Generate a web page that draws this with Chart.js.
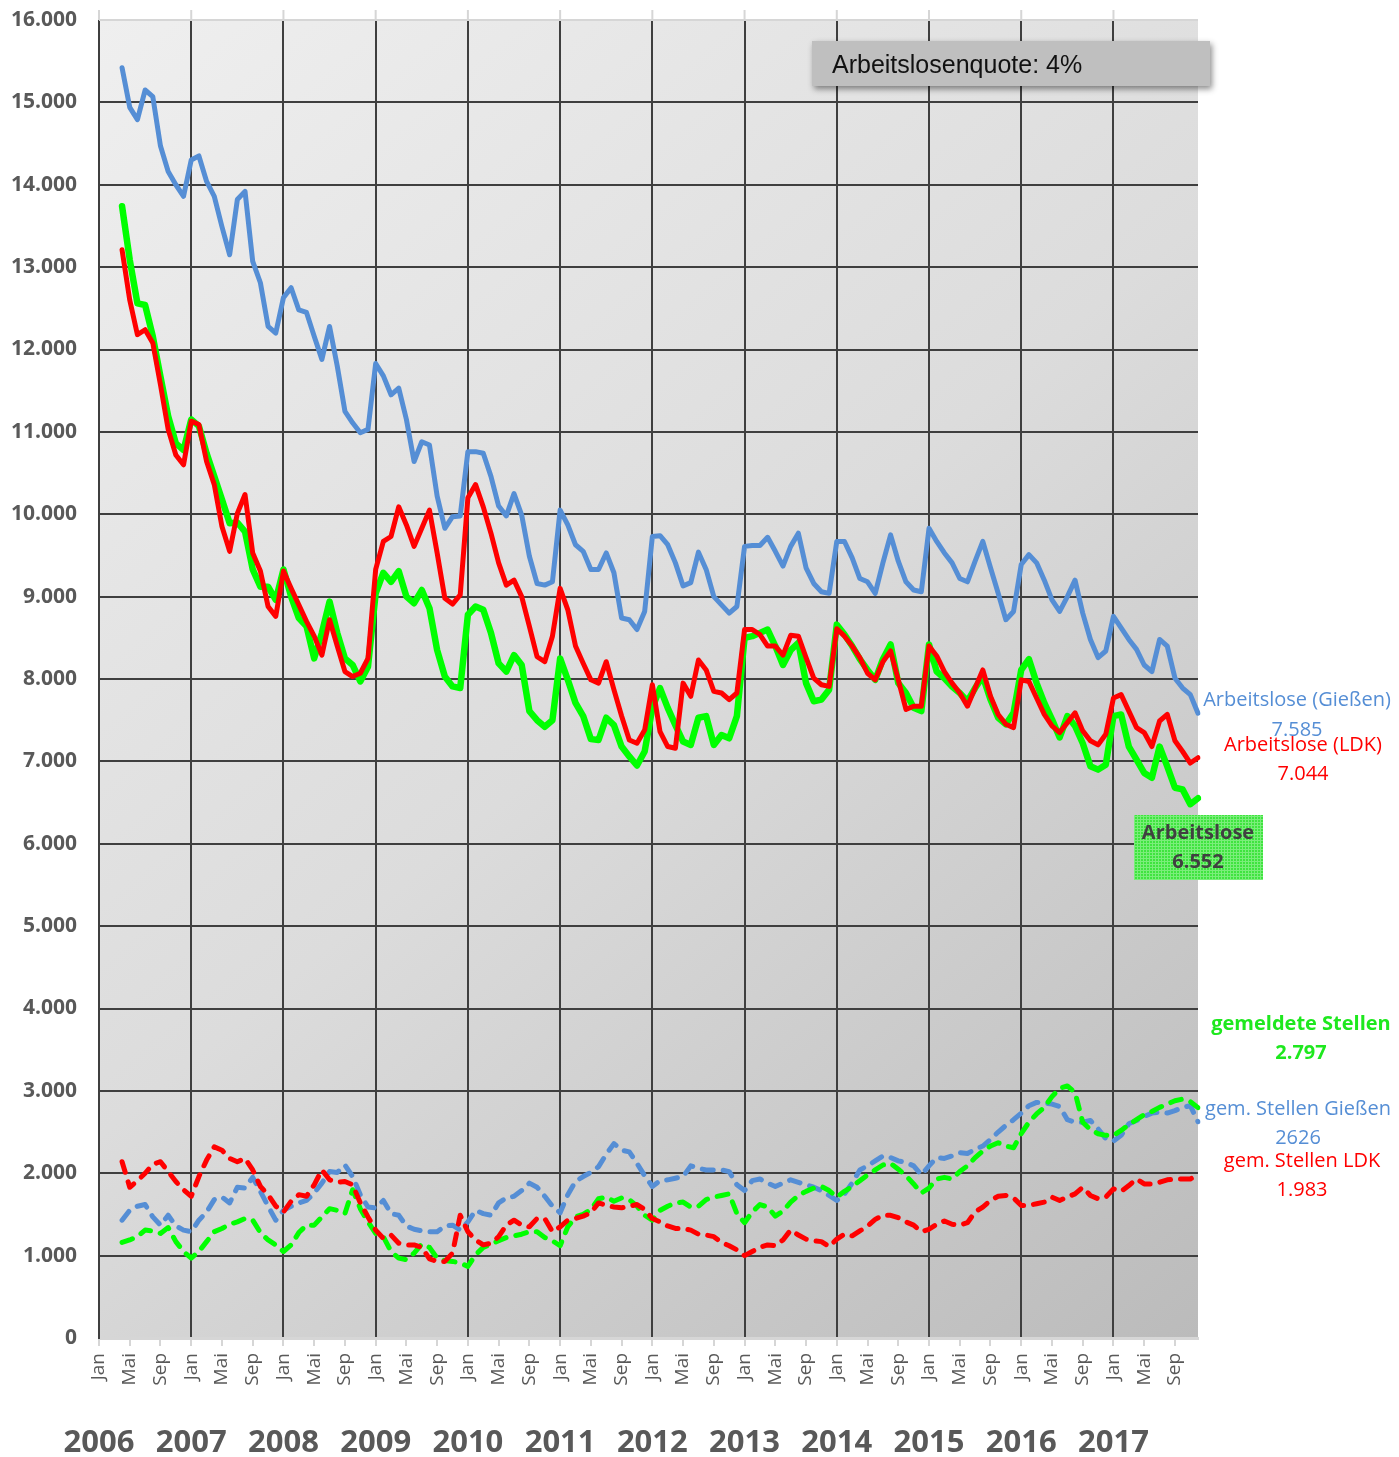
<!DOCTYPE html>
<html lang="de">
<head>
<meta charset="UTF-8">
<title>Arbeitslose und gemeldete Stellen 2006-2017</title>
<script src="https://cdn.jsdelivr.net/npm/chart.js"></script>
<style>
  html, body { margin: 0; padding: 0; background: #ffffff; }
  #wrap { width: 1399px; height: 1457px; }
</style>
</head>
<body>
<div id="wrap"><canvas id="chart" width="1399" height="1457"></canvas></div>
<script>
const jahre = [2006, 2007, 2008, 2009, 2010, 2011, 2012, 2013, 2014, 2015, 2016, 2017];
const monate = ['Jan', 'Feb', 'Mär', 'Apr', 'Mai', 'Jun', 'Jul', 'Aug', 'Sep', 'Okt', 'Nov', 'Dez'];

// Monatswerte April 2006 bis Dezember 2017 (eine Zeile je Jahr)
const arbeitsloseGiessen = [
  15420, 14940, 14790, 15150, 15070, 14470, 14160, 14000, 13860,
  14300, 14350, 14040, 13860, 13490, 13150, 13820, 13920, 13070, 12810, 12280, 12200,
  12630, 12750, 12480, 12450, 12160, 11880, 12280, 11800, 11250, 11110, 10990, 11030,
  11830, 11680, 11450, 11530, 11150, 10640, 10880, 10840, 10220, 9830, 9970, 9980,
  10760, 10760, 10740, 10460, 10100, 9980, 10250, 9990, 9490, 9160, 9140, 9180,
  10050, 9870, 9630, 9550, 9330, 9330, 9530, 9290, 8740, 8720, 8600, 8820,
  9730, 9740, 9630, 9410, 9130, 9170, 9540, 9330, 9000, 8900, 8800, 8880,
  9610, 9620, 9620, 9720, 9550, 9370, 9610, 9770, 9350, 9160, 9060, 9040,
  9670, 9670, 9470, 9220, 9180, 9040, 9410, 9750, 9430, 9180, 9080, 9060,
  9830, 9670, 9530, 9410, 9220, 9180, 9430, 9670, 9350, 9040, 8720, 8820,
  9390, 9510, 9410, 9200, 8960, 8820, 9000, 9200, 8800, 8480, 8260, 8340,
  8760, 8620, 8480, 8360, 8170, 8090, 8480, 8400, 8010, 7890, 7810, 7585
];
const arbeitsloseLDK = [
  13210, 12600, 12180, 12240, 12080, 11570, 11030, 10720, 10600,
  11130, 11090, 10640, 10360, 9850, 9550, 10010, 10240, 9530, 9310, 8880, 8760,
  9310, 9100, 8900, 8700, 8520, 8290, 8720, 8400, 8090, 8030, 8070, 8250,
  9330, 9670, 9730, 10090, 9870, 9610, 9830, 10050, 9530, 8980, 8910, 9020,
  10200, 10360, 10090, 9770, 9410, 9140, 9200, 9000, 8640, 8270, 8210, 8520,
  9100, 8840, 8400, 8190, 7990, 7950, 8210, 7870, 7550, 7260, 7220, 7380,
  7930, 7360, 7180, 7160, 7950, 7790, 8230, 8110, 7850, 7830, 7750, 7830,
  8600, 8600, 8540, 8400, 8400, 8290, 8530, 8520, 8260, 8010, 7930, 7910,
  8610, 8520, 8400, 8260, 8070, 7990, 8210, 8340, 7990, 7630, 7670, 7670,
  8400, 8280, 8090, 7950, 7830, 7670, 7890, 8110, 7790, 7570, 7450, 7410,
  7990, 7970, 7770, 7570, 7430, 7350, 7470, 7590, 7370, 7250, 7200, 7330,
  7770, 7810, 7610, 7410, 7350, 7180, 7490, 7570, 7250, 7120, 6980, 7044
];
const arbeitslose = [
  13740, 13090, 12560, 12540, 12160, 11670, 11190, 10860, 10780,
  11150, 11070, 10740, 10460, 10180, 9890, 9900, 9790, 9330, 9120, 9120, 8960,
  9330, 9000, 8740, 8640, 8250, 8560, 8940, 8560, 8250, 8170, 7970, 8150,
  9040, 9290, 9180, 9310, 9000, 8920, 9080, 8860, 8350, 8030, 7910, 7890,
  8780, 8880, 8840, 8560, 8190, 8090, 8290, 8170, 7610, 7500, 7420, 7500,
  8250, 7990, 7710, 7550, 7270, 7260, 7530, 7440, 7180, 7060, 6950, 7120,
  7650, 7890, 7650, 7440, 7240, 7200, 7530, 7550, 7200, 7320, 7280, 7550,
  8500, 8520, 8560, 8600, 8400, 8170, 8350, 8440, 7950, 7730, 7750, 7870,
  8660, 8540, 8400, 8240, 8110, 7990, 8240, 8420, 7950, 7830, 7650, 7610,
  8420, 8090, 8010, 7910, 7830, 7730, 7890, 8030, 7750, 7530, 7450, 7590,
  8110, 8240, 7950, 7710, 7510, 7290, 7550, 7430, 7220, 6940, 6900, 6960,
  7550, 7570, 7180, 7020, 6860, 6800, 7180, 6940, 6680, 6660, 6480, 6552
];
const stellenGiessen = [
  1430, 1550, 1600, 1620, 1470, 1370, 1490, 1360, 1310,
  1290, 1430, 1530, 1680, 1710, 1640, 1830, 1820, 1950, 1780, 1600, 1430,
  1550, 1600, 1640, 1670, 1760, 1880, 2020, 2010, 2100, 1960, 1740, 1590,
  1580, 1670, 1510, 1490, 1360, 1320, 1300, 1290, 1290, 1360, 1370, 1310,
  1410, 1550, 1510, 1490, 1640, 1700, 1720, 1790, 1880, 1830, 1720, 1600,
  1520, 1740, 1900, 1960, 2010, 2080, 2230, 2360, 2280, 2260, 2120, 1970,
  1840, 1910, 1920, 1940, 1960, 2090, 2060, 2040, 2040, 2040, 2020, 1860,
  1790, 1910, 1930, 1880, 1840, 1880, 1920, 1890, 1860, 1830, 1790, 1730,
  1670, 1750, 1880, 2040, 2090, 2150, 2210, 2190, 2150, 2130, 2090, 1980,
  2090, 2190, 2180, 2210, 2250, 2240, 2290, 2330, 2410, 2500, 2580, 2650,
  2730, 2820, 2860, 2850, 2840, 2810, 2650, 2620, 2620, 2640, 2540, 2420,
  2390, 2460, 2600, 2640, 2690, 2730, 2740, 2730, 2760, 2800, 2820, 2626
];
const stellen = [
  1160, 1190, 1230, 1310, 1300, 1270, 1340, 1170, 1050,
  970, 1050, 1170, 1290, 1330, 1380, 1410, 1450, 1430, 1280, 1190, 1130,
  1050, 1130, 1280, 1370, 1370, 1470, 1570, 1550, 1510, 1800, 1570, 1410,
  1270, 1230, 1050, 970, 950, 1030, 1140, 1100, 970, 940, 930, 910,
  870, 1010, 1100, 1140, 1180, 1220, 1240, 1260, 1290, 1290, 1220, 1180,
  1120, 1350, 1470, 1500, 1560, 1690, 1710, 1660, 1700, 1680, 1600, 1490,
  1430, 1550, 1600, 1640, 1650, 1590, 1600, 1680, 1710, 1730, 1750, 1510,
  1400, 1530, 1620, 1590, 1480, 1540, 1650, 1730, 1780, 1820, 1840, 1790,
  1710, 1780, 1840, 1910, 1980, 2040, 2100, 2120, 2050, 1970, 1870, 1760,
  1820, 1930, 1950, 1930, 2020, 2090, 2190, 2270, 2330, 2370, 2330, 2310,
  2480, 2620, 2720, 2800, 2930, 3030, 3060, 2980, 2620, 2530, 2480, 2460,
  2460, 2520, 2590, 2650, 2710, 2750, 2800, 2840, 2880, 2900, 2870, 2797
];
const stellenLDK = [
  2140, 1830, 1910, 2000, 2110, 2140, 2020, 1900, 1800,
  1720, 1960, 2160, 2320, 2280, 2180, 2140, 2180, 2040, 1840, 1740, 1600,
  1530, 1660, 1740, 1720, 1860, 2040, 1920, 1890, 1900, 1860, 1640, 1470,
  1310, 1210, 1250, 1150, 1130, 1130, 1100, 960, 930, 930, 1030, 1490,
  1290, 1190, 1130, 1150, 1230, 1370, 1430, 1370, 1350, 1450, 1450, 1290,
  1350, 1430, 1450, 1480, 1520, 1640, 1610, 1590, 1580, 1600, 1620, 1560,
  1450, 1410, 1360, 1330, 1330, 1310, 1260, 1250, 1230, 1160, 1120, 1070,
  1000, 1050, 1100, 1130, 1120, 1190, 1310, 1250, 1200, 1180, 1170, 1110,
  1200, 1260, 1240, 1300, 1360, 1440, 1490, 1490, 1460, 1410, 1370, 1290,
  1320, 1380, 1420, 1380, 1370, 1400, 1530, 1590, 1670, 1720, 1730, 1700,
  1610, 1610, 1630, 1650, 1710, 1670, 1710, 1750, 1830, 1730, 1690, 1710,
  1810, 1780, 1850, 1930, 1870, 1870, 1890, 1920, 1930, 1930, 1930, 1983
];

const BLAU = '#558ed5';
const ROT = '#ff0000';
const GRUEN = '#00ff00';
const GRID = '#3f3f3f';
const HELL = '#d6d6d6';

// Januar bis März 2006 ohne Werte
const leer = [null, null, null];

const labels = [];
jahre.forEach(j => monate.forEach(m => labels.push(m + ' ' + j)));

function tausender(v) {
  return String(v).replace(/\B(?=(\d{3})+(?!\d))/g, '.');
}

function linie(data, farbe, breite, gestrichelt) {
  return {
    data: leer.concat(data),
    borderColor: farbe,
    borderWidth: breite,
    borderDash: gestrichelt ? [11, 10] : [],
    borderCapStyle: 'round',
    borderJoinStyle: 'round',
    pointRadius: 0,
    tension: 0,
    fill: false
  };
}

const hintergrund = {
  id: 'hintergrund',
  beforeDraw(chart) {
    const { ctx, chartArea: a } = chart;
    const g = ctx.createLinearGradient(a.left, a.top, a.right, a.bottom);
    g.addColorStop(0, '#efefef');
    g.addColorStop(0.5, '#dcdcdc');
    g.addColorStop(1, '#bbbbbb');
    ctx.save();
    ctx.fillStyle = g;
    ctx.fillRect(a.left, a.top, a.width, a.height);
    ctx.restore();
  }
};

const beschriftung = {
  id: 'beschriftung',
  afterDraw(chart) {
    const { ctx, chartArea: a, scales } = chart;
    const x = scales.x;
    ctx.save();

    // obere Rahmenlinie mit kurzen Strichen je Januar
    ctx.strokeStyle = HELL;
    ctx.lineWidth = 2;
    ctx.beginPath();
    ctx.moveTo(a.left, a.top);
    ctx.lineTo(a.right, a.top);
    jahre.forEach((j, k) => {
      const px = x.getPixelForValue(k * 12);
      ctx.moveTo(px, a.top - 10);
      ctx.lineTo(px, a.top);
    });
    ctx.stroke();

    // Jahreszahlen unter den Monaten
    ctx.fillStyle = '#595959';
    ctx.font = 'bold 31px "Open Sans"';
    ctx.textAlign = 'center';
    ctx.textBaseline = 'middle';
    jahre.forEach((j, k) => {
      ctx.fillText(String(j), x.getPixelForValue(k * 12), 1443);
    });

    // Kasten Arbeitslosenquote
    ctx.save();
    ctx.shadowColor = 'rgba(0,0,0,0.45)';
    ctx.shadowBlur = 6;
    ctx.shadowOffsetX = 2;
    ctx.shadowOffsetY = 3;
    ctx.fillStyle = '#bfbfbf';
    ctx.fillRect(812, 41, 398, 45);
    ctx.restore();
    ctx.fillStyle = '#111111';
    ctx.font = '25px "Liberation Sans"';
    ctx.textAlign = 'left';
    ctx.fillText('Arbeitslosenquote: 4%', 832, 66);

    // grüner Kasten für Arbeitslose gesamt
    const muster = document.createElement('canvas');
    muster.width = 3; muster.height = 3;
    const m = muster.getContext('2d');
    m.fillStyle = '#3fe43f';
    m.fillRect(0, 0, 3, 3);
    m.fillStyle = '#7aee7a';
    m.fillRect(0, 0, 3, 1);
    m.fillRect(0, 0, 1, 3);
    ctx.fillStyle = ctx.createPattern(muster, 'repeat');
    ctx.fillRect(1134, 815, 129, 65);

    const texte = [
      ['Arbeitslose (Gießen)', 1297, 700, BLAU, '20px "Open Sans"'],
      ['7.585', 1297, 730, BLAU, '20px "Open Sans"'],
      ['Arbeitslose (LDK)', 1303, 745, ROT, '20px "Open Sans"'],
      ['7.044', 1303, 774, ROT, '20px "Open Sans"'],
      ['Arbeitslose', 1198, 833, '#404040', 'bold 20px "Open Sans"'],
      ['6.552', 1198, 862, '#404040', 'bold 20px "Open Sans"'],
      ['gemeldete Stellen', 1301, 1024, '#1ee81e', 'bold 20px "Open Sans"'],
      ['2.797', 1301, 1053, '#1ee81e', 'bold 20px "Open Sans"'],
      ['gem. Stellen Gießen', 1298, 1109, BLAU, '20px "Open Sans"'],
      ['2626', 1298, 1138, BLAU, '20px "Open Sans"'],
      ['gem. Stellen LDK', 1302, 1161, ROT, '20px "Open Sans"'],
      ['1.983', 1302, 1190, ROT, '20px "Open Sans"']
    ];
    ctx.textAlign = 'center';
    ctx.textBaseline = 'middle';
    texte.forEach(([t, tx, ty, farbe, schrift]) => {
      ctx.fillStyle = farbe;
      ctx.font = schrift;
      ctx.fillText(t, tx, ty);
    });
    ctx.restore();
  }
};

new Chart(document.getElementById('chart'), {
  type: 'line',
  data: {
    labels: labels,
    datasets: [
      linie(arbeitsloseLDK, ROT, 5, false),
      linie(arbeitsloseGiessen, BLAU, 5, false),
      linie(arbeitslose, GRUEN, 6.5, false),
      linie(stellenLDK, ROT, 5, true),
      linie(stellen, GRUEN, 5, true),
      linie(stellenGiessen, BLAU, 5, true)
    ]
  },
  options: {
    responsive: false,
    animation: false,
    devicePixelRatio: 1,
    layout: { padding: { top: 20, right: 201, left: 0, bottom: 0 } },
    plugins: { legend: { display: false }, tooltip: { enabled: false } },
    scales: {
      x: {
        offset: false,
        grid: {
          color: c => c.index % 12 === 0 ? GRID : 'rgba(0,0,0,0)',
          lineWidth: 2,
          tickColor: c => c.index % 4 === 0 ? HELL : 'rgba(0,0,0,0)',
          tickLength: 8,
          tickWidth: 2
        },
        border: { color: HELL, width: 3 },
        ticks: {
          autoSkip: false,
          minRotation: 90,
          maxRotation: 90,
          padding: 7,
          color: '#595959',
          font: { family: 'Open Sans', size: 19 },
          callback: (v, i) => i % 4 === 0 ? monate[i % 12] : ''
        },
        afterFit: s => { s.height = 119; }
      },
      y: {
        min: 0,
        max: 16000,
        grid: {
          color: c => c.tick.value === 0 ? 'rgba(0,0,0,0)' : (c.tick.value === 16000 ? HELL : GRID),
          lineWidth: 2,
          drawTicks: false
        },
        border: { color: GRID, width: 2 },
        ticks: {
          stepSize: 1000,
          padding: 22,
          color: '#595959',
          font: { family: 'Open Sans', size: 21, weight: 'bold' },
          callback: v => tausender(v)
        },
        afterFit: s => {
          s.width = 99;
          s.paddingTop = 0;
          s.paddingBottom = 0;
        }
      }
    }
  },
  plugins: [hintergrund, beschriftung]
});
</script>
</body>
</html>
